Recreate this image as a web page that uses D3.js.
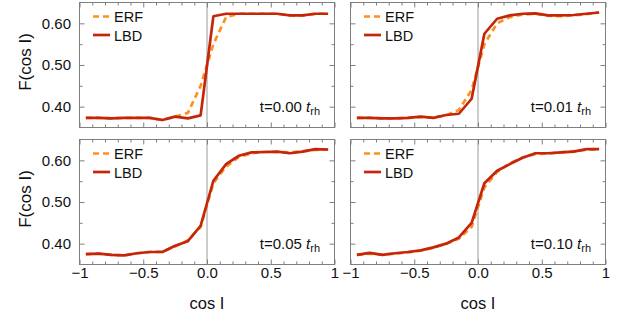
<!DOCTYPE html>
<html><head><meta charset="utf-8">
<script src="https://cdn.jsdelivr.net/npm/d3@7"></script>
<style>
body{margin:0;background:#fff;}
svg{display:block;font-family:"Liberation Sans",Arial,Helvetica,sans-serif;}
</style></head><body>
<svg id="c" width="618" height="322"></svg>
<script>
// ---- data ----
const cosI = [-0.95,-0.85,-0.75,-0.65,-0.55,-0.45,-0.35,-0.25,-0.15,-0.05,
               0.05, 0.15, 0.25, 0.35, 0.45, 0.55, 0.65, 0.75, 0.85, 0.95];

const lbd000 = [0.373,0.373,0.372,0.373,0.373,0.373,0.368,0.376,0.372,0.379,
                0.617,0.623,0.623,0.623,0.623,0.623,0.619,0.619,0.623,0.623];
const erf000 = [0.373,0.373,0.372,0.373,0.373,0.373,0.368,0.376,0.385,0.450,
                0.550,0.615,0.623,0.623,0.623,0.623,0.619,0.619,0.623,0.623];

const lbd001 = [0.373,0.373,0.372,0.372,0.373,0.376,0.373,0.380,0.383,0.419,
                0.575,0.611,0.619,0.623,0.624,0.619,0.619,0.620,0.623,0.626];
const erf001 = [0.373,0.373,0.372,0.372,0.373,0.375,0.374,0.379,0.392,0.440,
                0.550,0.600,0.615,0.621,0.623,0.618,0.617,0.619,0.622,0.626];

const lbd005 = [0.375,0.376,0.373,0.372,0.377,0.380,0.380,0.395,0.406,0.443,
                0.551,0.591,0.611,0.619,0.620,0.621,0.617,0.621,0.627,0.626];
const erf005 = [0.375,0.376,0.373,0.372,0.377,0.380,0.381,0.393,0.408,0.440,
                0.545,0.585,0.608,0.617,0.620,0.620,0.619,0.622,0.625,0.626];

const lbd010 = [0.373,0.378,0.373,0.377,0.380,0.384,0.391,0.400,0.415,0.450,
                0.545,0.575,0.591,0.606,0.617,0.617,0.619,0.621,0.627,0.627];
const erf010 = [0.373,0.376,0.374,0.376,0.379,0.383,0.390,0.400,0.412,0.440,
                0.535,0.572,0.593,0.607,0.615,0.616,0.619,0.622,0.625,0.627];

const timeLabels = ["0.00","0.01","0.05","0.10"];
const seriesNames = ["ERF","LBD"];

const xMajorTicks = [-1,-0.5,0,0.5,1];
const xTickLabels = ["\u22121","\u22120.5","0.0","0.5","1"];
const xMinorTicks = [-0.9,-0.8,-0.7,-0.6,-0.4,-0.3,-0.2,-0.1,0.1,0.2,0.3,0.4,0.6,0.7,0.8,0.9];
const yMajorTicks = [0.40,0.50,0.60];
const yTickLabels = ["0.40","0.50","0.60"];
const yMinorTicks = [0.45,0.55];

// ---- layout ----
const W = 255, H = 125;
const lefts = [79.5, 350.5], tops = [2.5, 139.5];
const ORANGE = "#ff8f1f", RED = "#c4260c", FRAME = "#7f7f7f";

const svg = d3.select("#c");
const x = d3.scaleLinear().domain([-1,1]).range([0,W]);
const y = d3.scaleLinear().domain([0.35,0.65]).range([H,0]);

const panels = [
  {erf:erf000, lbd:lbd000, t:timeLabels[0], col:0, row:0},
  {erf:erf001, lbd:lbd001, t:timeLabels[1], col:1, row:0},
  {erf:erf005, lbd:lbd005, t:timeLabels[2], col:0, row:1},
  {erf:erf010, lbd:lbd010, t:timeLabels[3], col:1, row:1}
];

const line = d3.line().x(d=>x(d[0])).y(d=>y(d[1]));

function styleTicks(g, color){
  g.select(".domain").remove();
  g.selectAll(".tick line").attr("stroke", color);
}

panels.forEach(p=>{
  const g = svg.append("g").attr("transform",`translate(${lefts[p.col]},${tops[p.row]})`);

  // zero line
  g.append("line").attr("x1",x(0)).attr("x2",x(0)).attr("y1",0).attr("y2",H)
    .attr("stroke","#9a9a9a").attr("stroke-width",1);

  // curves
  g.append("path").datum(cosI.map((c,i)=>[c,p.erf[i]]))
    .attr("d",line).attr("fill","none").attr("stroke",ORANGE)
    .attr("stroke-width",2.7).attr("stroke-dasharray","6,4");
  g.append("path").datum(cosI.map((c,i)=>[c,p.lbd[i]]))
    .attr("d",line).attr("fill","none").attr("stroke",RED)
    .attr("stroke-width",2.7).attr("stroke-linejoin","round");

  // frame
  g.append("rect").attr("x",0).attr("y",0).attr("width",W).attr("height",H)
    .attr("fill","none").attr("stroke",FRAME).attr("stroke-width",1);

  // ticks (inward) on all four sides
  const mk = (axisFn, vals, size, tr) => {
    const a = g.append("g").attr("transform",tr)
      .call(axisFn.tickValues(vals).tickSize(-size).tickFormat(""));
    styleTicks(a, FRAME);
  };
  mk(d3.axisBottom(x), xMajorTicks, 5, `translate(0,${H})`);
  mk(d3.axisBottom(x), xMinorTicks, 3, `translate(0,${H})`);
  mk(d3.axisTop(x), xMajorTicks, 5, `translate(0,0)`);
  mk(d3.axisTop(x), xMinorTicks, 3, `translate(0,0)`);
  mk(d3.axisLeft(y), yMajorTicks, 5, `translate(0,0)`);
  mk(d3.axisLeft(y), yMinorTicks, 3, `translate(0,0)`);
  mk(d3.axisRight(y), yMajorTicks, 5, `translate(${W},0)`);
  mk(d3.axisRight(y), yMinorTicks, 3, `translate(${W},0)`);

  // tick labels
  if (p.row === 1) {
    const a = g.append("g").attr("transform",`translate(0,${H})`)
      .call(d3.axisBottom(x).tickValues(xMajorTicks).tickSize(0).tickPadding(3)
        .tickFormat((d,i)=>xTickLabels[i]));
    a.select(".domain").remove();
    a.selectAll("text").attr("font-size",15).attr("fill","#111")
      .attr("font-family","Liberation Sans, Arial, sans-serif");
    g.append("text").attr("x",x(0)).attr("y",H+44.5).attr("text-anchor","middle")
      .attr("font-size",16.5).attr("fill","#111").text("cos I");
  }
  if (p.col === 0) {
    const a = g.append("g")
      .call(d3.axisLeft(y).tickValues(yMajorTicks).tickSize(0).tickPadding(8.5)
        .tickFormat((d,i)=>yTickLabels[i]));
    a.select(".domain").remove();
    a.selectAll("text").attr("font-size",15).attr("fill","#111")
      .attr("font-family","Liberation Sans, Arial, sans-serif");
    g.append("text").attr("transform",`translate(-49,${H/2-3}) rotate(-90)`)
      .attr("text-anchor","middle").attr("font-size",17).attr("fill","#111")
      .text("F(cos I)");
  }

  // legend
  const lg = g.append("g");
  lg.append("line").attr("x1",13.5).attr("x2",30.5).attr("y1",14).attr("y2",14)
    .attr("stroke",ORANGE).attr("stroke-width",2.7).attr("stroke-dasharray","6,4");
  lg.append("text").attr("x",34.5).attr("y",19.5).attr("font-size",14.5).attr("fill","#111").text(seriesNames[0]);
  lg.append("line").attr("x1",13.5).attr("x2",30.5).attr("y1",32.5).attr("y2",32.5)
    .attr("stroke",RED).attr("stroke-width",2.7);
  lg.append("text").attr("x",34.5).attr("y",38).attr("font-size",14.5).attr("fill","#111").text(seriesNames[1]);

  // time annotation
  const t = g.append("text").attr("x",W-14.5).attr("y",109.5).attr("text-anchor","end")
    .attr("font-size",15).attr("fill","#111");
  t.append("tspan").text(`t=${p.t} `);
  t.append("tspan").attr("font-style","italic").text("t");
  t.append("tspan").attr("font-size",11).attr("dy",2.5).text("rh");
});
</script>
</body></html>
